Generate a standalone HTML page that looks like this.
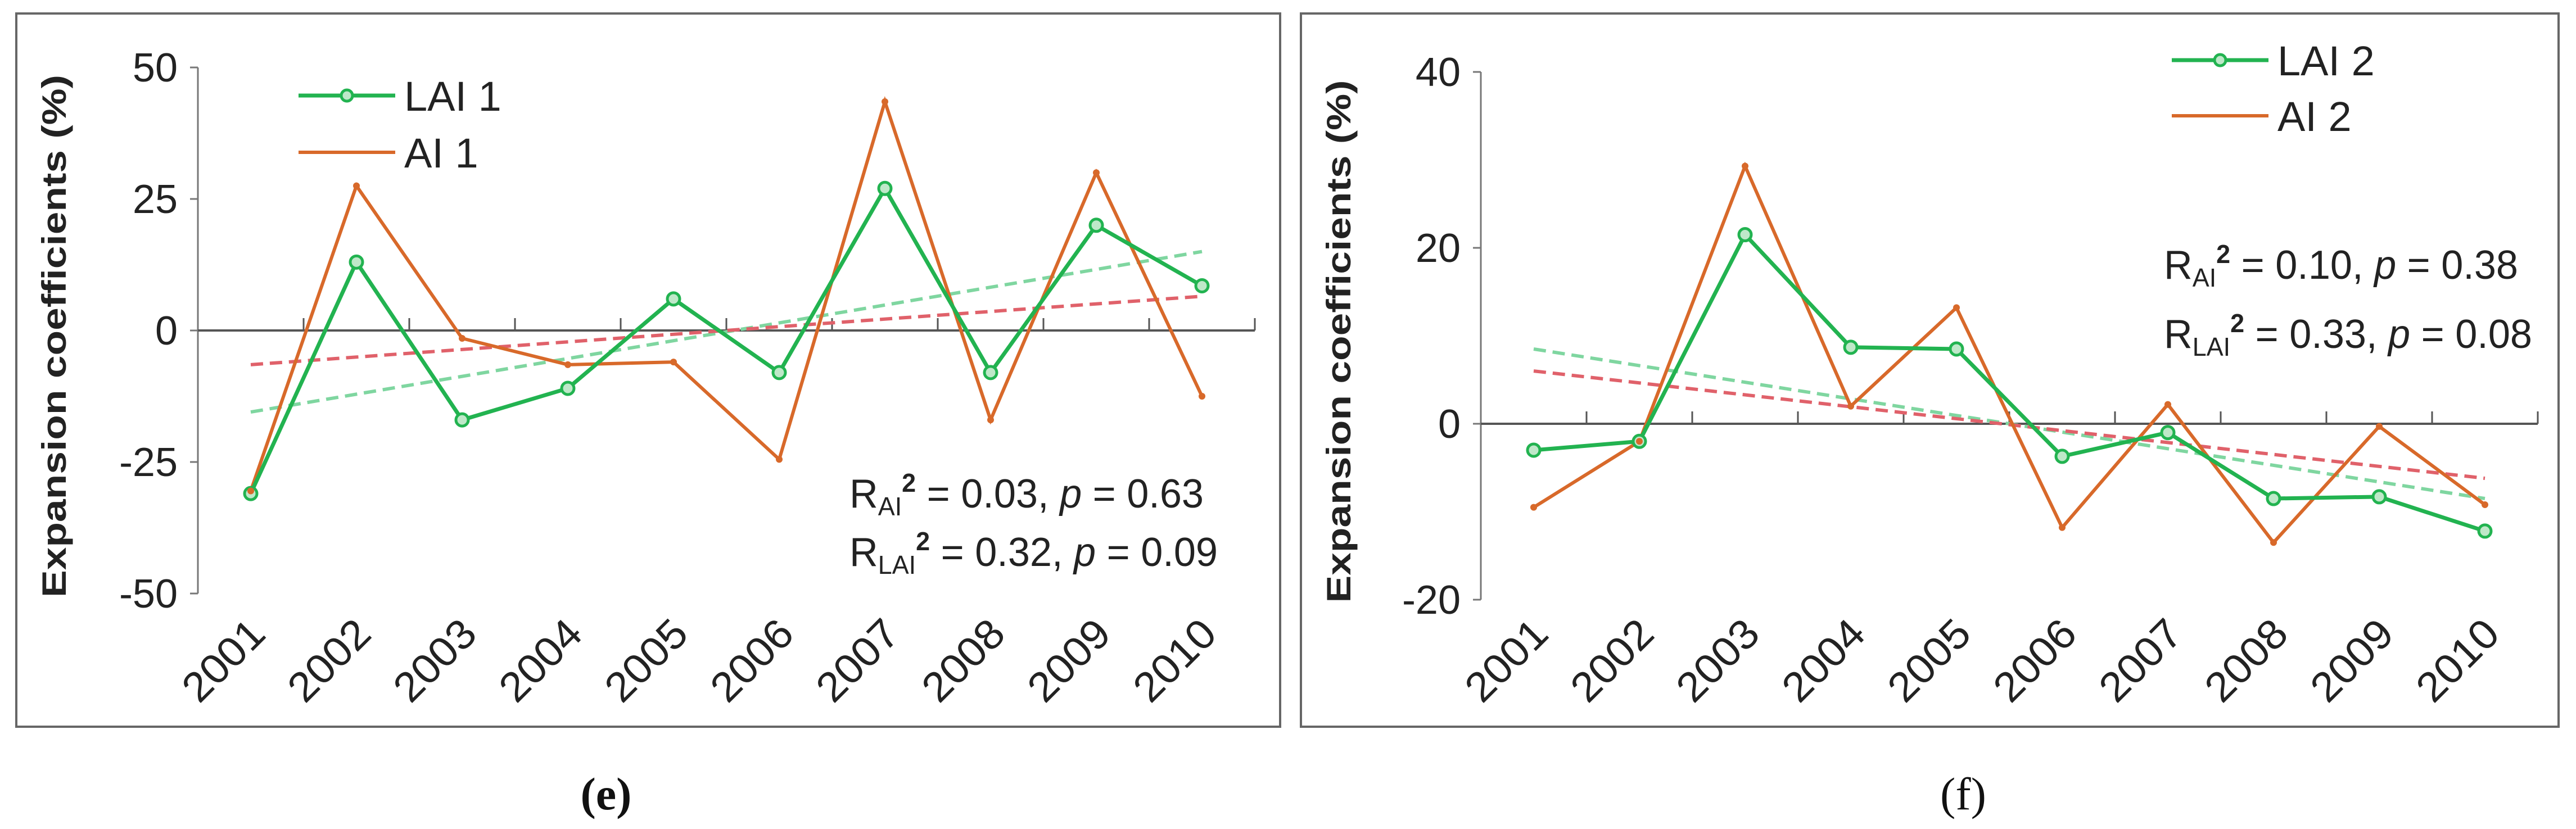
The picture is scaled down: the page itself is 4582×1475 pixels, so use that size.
<!DOCTYPE html>
<html><head><meta charset="utf-8"><style>
html,body{margin:0;padding:0;background:#fff}
svg{display:block}
text{font-family:"Liberation Sans",sans-serif}
</style></head><body>
<svg id="c" width="4582" height="1475" viewBox="0 0 4582 1475" xmlns="http://www.w3.org/2000/svg">
<rect x="0" y="0" width="4582" height="1475" fill="#fff"/>
</svg>
<script>
const years = ["2001","2002","2003","2004","2005","2006","2007","2008","2009","2010"];
const laiE = [-31, 13, -17, -11, 6, -8, 27, -8, 20, 8.5];
const aiE = [-30.5, 27.5, -1.5, -6.5, -6, -24.5, 43.5, -17, 30, -12.5];
const laiTrendE = [-15.5, 15];
const aiTrendE = [-6.5, 6.5];
const ticksE = [50, 25, 0, -25, -50];
const laiF = [-3, -2, 21.5, 8.7, 8.5, -3.7, -1, -8.5, -8.3, -12.2];
const aiF = [-9.5, -2, 29.3, 2, 13.2, -11.8, 2.2, -13.5, -0.3, -9.2];
const laiTrendF = [8.5, -8.5];
const aiTrendF = [6, -6.2];
const ticksF = [40, 20, 0, -20];

const NS = "http://www.w3.org/2000/svg";
const svg = document.getElementById("c");
function mk(tag, attrs, parent, txt){
  const e = document.createElementNS(NS, tag);
  for (const k in attrs) e.setAttribute(k, attrs[k]);
  if (txt !== undefined) e.textContent = txt;
  (parent || svg).appendChild(e);
  return e;
}
const GREEN = "#22b350", ORANGE = "#d8692a", TG = "#7fd6a0", TR = "#e0616a";

function panel(o){
  const g = mk("g", {});
  
  
  const f = mk("rect", {x:o.fx, y:24, width:o.fw, height:1269, fill:"none", stroke:"#666", "stroke-width":4}, g);
  
  
  const ax = o.ax, cw = 188;
  const ymax = o.ticks[0], ymin = o.ticks[o.ticks.length-1];
  const Y = v => o.yTop + (ymax - v) / (ymax - ymin) * (o.yBot - o.yTop);
  const X = i => ax + cw * (i + 0.5);
  const ya = mk("line", {x1:ax, y1:o.yTop, x2:ax, y2:o.yBot, stroke:"#777", "stroke-width":3}, g);
  
  
  o.ticks.forEach(t => {
    const tm = mk("line", {x1:ax-14, y1:Y(t), x2:ax, y2:Y(t), stroke:"#777", "stroke-width":3}, g);
    
    
    const tl = mk("text", {x:ax-36, y:Y(t)+25, "text-anchor":"end", "font-size":72, fill:"#222"}, g, String(t));
    
    
  });
  const y0 = Y(0);
  const xa = mk("line", {x1:ax, y1:y0, x2:ax+cw*years.length, y2:y0, stroke:"#555", "stroke-width":4}, g);
  
  
  years.forEach((yr, i) => {
    const tm = mk("line", {x1:ax+cw*(i+1), y1:y0-22, x2:ax+cw*(i+1), y2:y0, stroke:"#555", "stroke-width":3}, g);
    
    
    const cx = X(i) + 30, cy = 1132;
    const tl = mk("text", {x:cx, y:cy, "text-anchor":"end", "font-size":74, fill:"#222", textLength:172, lengthAdjust:"spacingAndGlyphs", transform:`rotate(-45 ${cx} ${cy})`}, g, yr);
    
    
  });
  const tx = o.fx + 88, ty = (o.yTop + o.yBot) / 2 + 10;
  const yt = mk("text", {x:tx, y:ty, "text-anchor":"middle", "font-size":60, "font-weight":"bold", fill:"#222", textLength:930, lengthAdjust:"spacingAndGlyphs", transform:`rotate(-90 ${tx} ${ty})`}, g, "Expansion coefficients (%)");
  
  
  const tg = mk("line", {x1:X(0), y1:Y(o.laiT[0]), x2:X(years.length-1), y2:Y(o.laiT[1]), stroke:TG, "stroke-width":6, "stroke-dasharray":"22 12"}, g);
  
  
  const tr = mk("line", {x1:X(0), y1:Y(o.aiT[0]), x2:X(years.length-1), y2:Y(o.aiT[1]), stroke:TR, "stroke-width":6, "stroke-dasharray":"22 12"}, g);
  
  
  const ap = mk("polyline", {points:o.ai.map((v,i)=>X(i)+","+Y(v)).join(" "), fill:"none", stroke:ORANGE, "stroke-width":6}, g);
  
  
  const lp = mk("polyline", {points:o.lai.map((v,i)=>X(i)+","+Y(v)).join(" "), fill:"none", stroke:GREEN, "stroke-width":7}, g);
  
  
  o.lai.forEach((v,i) => {
    const c = mk("circle", {cx:X(i), cy:Y(v), r:11, fill:"#bfe8c9", stroke:GREEN, "stroke-width":5}, g);
    
    
  });
  o.ai.forEach((v,i) => {
    const c = mk("circle", {cx:X(i), cy:Y(v), r:6, fill:ORANGE}, g);
    
    
  });
  const L = o.leg;
  const l1 = mk("line", {x1:L.x, y1:L.y1, x2:L.x+172, y2:L.y1, stroke:GREEN, "stroke-width":7}, g);
  
  
  const lc = mk("circle", {cx:L.x+86, cy:L.y1, r:10, fill:"#bfe8c9", stroke:GREEN, "stroke-width":5}, g);
  
  
  const lt1 = mk("text", {x:L.x+188, y:L.y1+27, "font-size":74, fill:"#222"}, g, o.lab1);
  
  
  const l2 = mk("line", {x1:L.x, y1:L.y2, x2:L.x+172, y2:L.y2, stroke:ORANGE, "stroke-width":6}, g);
  
  
  const lt2 = mk("text", {x:L.x+188, y:L.y2+27, "font-size":74, fill:"#222"}, g, o.lab2);
  
  
  o.ann.forEach((a, k) => {
    const t = mk("text", {x:o.annX, y:o.annY[k], "font-size":72, fill:"#222", textLength:a.len, lengthAdjust:"spacingAndGlyphs"}, g);
    
    
    mk("tspan", {}, t, "R");
    mk("tspan", {"font-size":46, dy:14}, t, a.sub);
    mk("tspan", {"font-size":46, dy:-42, "font-weight":"bold"}, t, "2");
    mk("tspan", {dy:28}, t, " = " + a.r + ", ");
    mk("tspan", {"font-style":"italic"}, t, "p");
    mk("tspan", {}, t, " = " + a.p);
  });
  const pl = mk("text", {x:o.lblX, y:1440, "text-anchor":"middle", "font-size":82, style:"font-family:'Liberation Serif',serif", "font-weight":o.bold?"bold":"normal", fill:"#111"}, svg, o.lbl);
  
  
}

panel({name:"chart-e", fx:29, fw:2248, ax:352, yTop:120, yBot:1056, ticks:ticksE,
  lai:laiE, ai:aiE, laiT:laiTrendE, aiT:aiTrendE, lab1:"LAI 1", lab2:"AI 1",
  leg:{x:531, y1:170, y2:271}, annX:1511, annY:[903,1007],
  ann:[{sub:"AI", r:"0.03", p:"0.63", len:630},{sub:"LAI", r:"0.32", p:"0.09", len:655}],
  lbl:"(e)", lblX:1078, bold:true});
panel({name:"chart-f", fx:2314, fw:2237, ax:2634, yTop:128, yBot:1067, ticks:ticksF,
  lai:laiF, ai:aiF, laiT:laiTrendF, aiT:aiTrendF, lab1:"LAI 2", lab2:"AI 2",
  leg:{x:3863, y1:107, y2:206}, annX:3849, annY:[496,619],
  ann:[{sub:"AI", r:"0.10", p:"0.38", len:630},{sub:"LAI", r:"0.33", p:"0.08", len:655}],
  lbl:"(f)", lblX:3492, bold:false});
</script>
</body></html>
